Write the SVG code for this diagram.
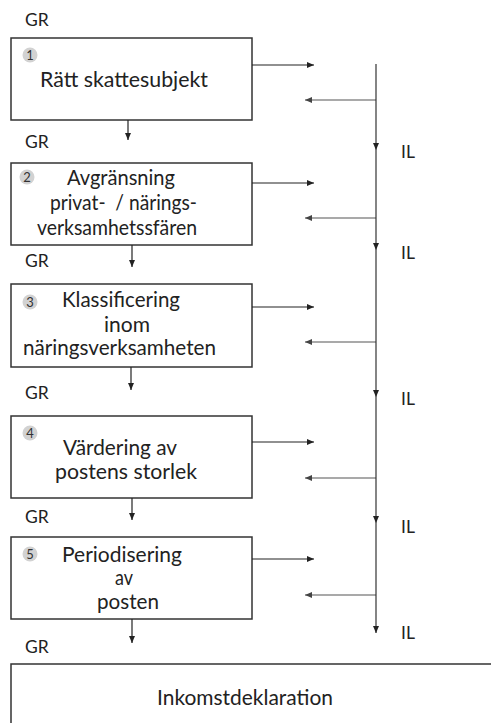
<svg xmlns="http://www.w3.org/2000/svg" width="491" height="723" viewBox="0 0 491 723">
<style>
  .box { fill: #fff; stroke: #333; stroke-width: 1.5; }
  .t { font-family: Lato, "Open Sans", "Liberation Sans", sans-serif; font-size: 20.5px; fill: #222; }
  .lbl { font-family: Lato, "Open Sans", "Liberation Sans", sans-serif; font-size: 17.5px; fill: #222; }
  .num { font-family: Lato, "Open Sans", "Liberation Sans", sans-serif; font-size: 13px; fill: #333; text-anchor: middle; }
  .badge { fill: #d2d2d2; }
  .fwd { stroke: #222; stroke-width: 1.2; fill: none; marker-end: url(#ah); }
  .back { stroke: #555; stroke-width: 1.2; fill: none; marker-end: url(#ahg); }
  .vert { stroke: #333; stroke-width: 1.2; fill: none; marker-end: url(#ah); }
</style>
<defs>
  <marker id="ah" markerUnits="userSpaceOnUse" markerWidth="8" markerHeight="6" refX="7" refY="3" orient="auto">
    <path d="M0,0 L7,3 L0,6 z" fill="#222"/>
  </marker>
  <marker id="ahg" markerUnits="userSpaceOnUse" markerWidth="8" markerHeight="6" refX="7" refY="3" orient="auto">
    <path d="M0,0 L7,3 L0,6 z" fill="#444"/>
  </marker>
</defs>
<rect width="491" height="723" fill="#fff"/>

<g id="labels">
  <text class="lbl" x="25" y="26">GR</text>
  <text class="lbl" x="25" y="148">GR</text>
  <text class="lbl" x="25" y="267">GR</text>
  <text class="lbl" x="25" y="399">GR</text>
  <text class="lbl" x="25" y="523">GR</text>
  <text class="lbl" x="25" y="653">GR</text>
  <text class="lbl" x="401" y="158">IL</text>
  <text class="lbl" x="401" y="259">IL</text>
  <text class="lbl" x="401" y="405">IL</text>
  <text class="lbl" x="401" y="533">IL</text>
  <text class="lbl" x="401" y="639">IL</text>
</g>

<g id="node1">
  <rect class="box" x="11" y="38" width="241" height="82"/>
  <circle class="badge" cx="30" cy="55" r="7.5"/>
  <text class="num" x="30" y="59.5">1</text>
  <text class="t" x="40" y="87" textLength="168" lengthAdjust="spacingAndGlyphs">Rätt skattesubjekt</text>
</g>

<g id="node2">
  <rect class="box" x="11" y="163" width="241" height="82"/>
  <circle class="badge" cx="27" cy="177" r="7.5"/>
  <text class="num" x="27" y="181.5">2</text>
  <text class="t" x="67" y="185" textLength="108" lengthAdjust="spacingAndGlyphs">Avgränsning</text>
  <text class="t" x="50" y="210" textLength="147" lengthAdjust="spacingAndGlyphs" xml:space="preserve">privat-  / närings-</text>
  <text class="t" x="37" y="235" textLength="160" lengthAdjust="spacingAndGlyphs">verksamhetssfären</text>
</g>

<g id="node3">
  <rect class="box" x="11" y="284" width="241" height="83"/>
  <circle class="badge" cx="30" cy="302" r="7.5"/>
  <text class="num" x="30" y="306.5">3</text>
  <text class="t" x="62" y="307" textLength="118" lengthAdjust="spacingAndGlyphs">Klassificering</text>
  <text class="t" x="104" y="332" textLength="46" lengthAdjust="spacingAndGlyphs">inom</text>
  <text class="t" x="23" y="355" textLength="193" lengthAdjust="spacingAndGlyphs">näringsverksamheten</text>
</g>

<g id="node4">
  <rect class="box" x="11" y="416" width="241" height="82"/>
  <circle class="badge" cx="30" cy="433" r="7.5"/>
  <text class="num" x="30" y="437.5">4</text>
  <text class="t" x="63" y="455" textLength="114" lengthAdjust="spacingAndGlyphs">Värdering av</text>
  <text class="t" x="55" y="479" textLength="142" lengthAdjust="spacingAndGlyphs">postens storlek</text>
</g>

<g id="node5">
  <rect class="box" x="11" y="537" width="241" height="82"/>
  <circle class="badge" cx="30" cy="554" r="7.5"/>
  <text class="num" x="30" y="558.5">5</text>
  <text class="t" x="62" y="562" textLength="120" lengthAdjust="spacingAndGlyphs">Periodisering</text>
  <text class="t" x="115" y="585" textLength="18" lengthAdjust="spacingAndGlyphs">av</text>
  <text class="t" x="97" y="609" textLength="62" lengthAdjust="spacingAndGlyphs">posten</text>
</g>

<g id="node6">
  <path d="M11,723 V664 H491" fill="none" stroke="#333" stroke-width="1.5"/>
  <text class="t" x="157" y="705" textLength="176" lengthAdjust="spacingAndGlyphs">Inkomstdeklaration</text>
</g>

<g id="connectors">
  <line class="fwd" x1="128" y1="120" x2="128" y2="140"/>
  <line class="fwd" x1="132" y1="245" x2="132" y2="267"/>
  <line class="fwd" x1="131" y1="367" x2="131" y2="390"/>
  <line class="fwd" x1="132" y1="498" x2="132" y2="520"/>
  <line class="fwd" x1="132" y1="619" x2="132" y2="643"/>

  <line class="fwd" x1="252" y1="65" x2="314" y2="65"/>
  <line class="fwd" x1="252" y1="183" x2="314" y2="183"/>
  <line class="fwd" x1="252" y1="307" x2="314" y2="307"/>
  <line class="fwd" x1="252" y1="442" x2="314" y2="442"/>
  <line class="fwd" x1="252" y1="559" x2="314" y2="559"/>

  <line class="back" x1="376" y1="100" x2="305" y2="100"/>
  <line class="back" x1="376" y1="218" x2="305" y2="218"/>
  <line class="back" x1="376" y1="342" x2="305" y2="342"/>
  <line class="back" x1="376" y1="478" x2="305" y2="478"/>
  <line class="back" x1="376" y1="595" x2="305" y2="595"/>

  <line class="vert" x1="376" y1="64" x2="376" y2="150"/>
  <line class="vert" x1="376" y1="150" x2="376" y2="250"/>
  <line class="vert" x1="376" y1="250" x2="376" y2="397"/>
  <line class="vert" x1="376" y1="397" x2="376" y2="523"/>
  <line class="vert" x1="376" y1="523" x2="376" y2="633"/>
</g>
</svg>
